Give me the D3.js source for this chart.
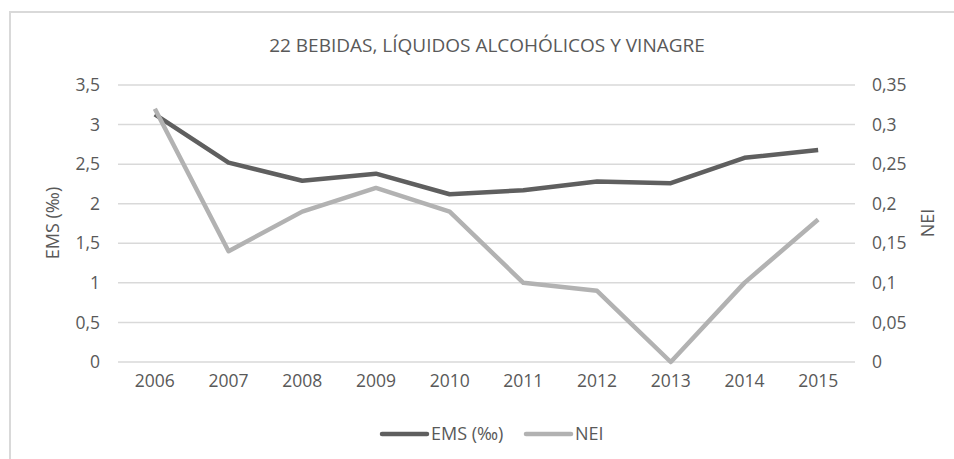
<!DOCTYPE html>
<html>
<head>
<meta charset="utf-8">
<script src="https://cdn.jsdelivr.net/npm/d3@7"></script>
<style>
  body { margin: 0; background: #fff; }
  svg { display: block; font-family: "Open Sans", sans-serif; }
</style>
</head>
<body>
<div id="chart"></div>
<script>
const years = ['2006', '2007', '2008', '2009', '2010', '2011', '2012', '2013', '2014', '2015'];
const ems = [3.13, 2.52, 2.29, 2.38, 2.12, 2.17, 2.28, 2.26, 2.58, 2.68];
const nei = [0.32, 0.14, 0.19, 0.22, 0.19, 0.10, 0.09, 0.00, 0.10, 0.18];
const leftTicks = [0, 0.5, 1, 1.5, 2, 2.5, 3, 3.5];
const rightTicks = [0, 0.05, 0.1, 0.15, 0.2, 0.25, 0.3, 0.35];

const width = 954, height = 459;
const margin = { top: 85, right: 99, bottom: 97, left: 118 };
const textColor = '#595959';
const fmt = v => String(v).replace('.', ',');

const svg = d3.select('#chart').append('svg')
  .attr('width', width)
  .attr('height', height);

// chart area border (runs off the right and bottom)
svg.append('path')
  .attr('d', `M10,${height + 5} V12 H${width + 5}`)
  .attr('fill', 'none')
  .attr('stroke', '#d9d9d9')
  .attr('stroke-width', 2);

const x = d3.scaleBand()
  .domain(years)
  .range([margin.left, width - margin.right]);

const yL = d3.scaleLinear().domain([0, 3.5]).range([height - margin.bottom, margin.top]);
const yR = d3.scaleLinear().domain([0, 0.35]).range([height - margin.bottom, margin.top]);

// gridlines
svg.append('g')
  .selectAll('line')
  .data(leftTicks)
  .join('line')
  .attr('x1', margin.left)
  .attr('x2', width - margin.right)
  .attr('y1', d => yL(d))
  .attr('y2', d => yL(d))
  .attr('stroke', '#d9d9d9')
  .attr('stroke-width', 1.5);

const axL = svg.append('g')
  .attr('transform', `translate(${margin.left - 18},0)`)
  .call(d3.axisLeft(yL).tickValues(leftTicks).tickFormat(fmt).tickSize(0).tickPadding(0));
const axR = svg.append('g')
  .attr('transform', `translate(${width - margin.right + 17},0)`)
  .call(d3.axisRight(yR).tickValues(rightTicks).tickFormat(fmt).tickSize(0).tickPadding(0));
const axB = svg.append('g')
  .attr('transform', `translate(0,${height - margin.bottom + 13})`)
  .call(d3.axisBottom(x).tickSize(0).tickPadding(0));

[axL, axR, axB].forEach(g => {
  g.select('.domain').remove();
  g.selectAll('text')
    .attr('fill', textColor)
    .style('font-size', '17.5px')
    .style('font-family', '"Open Sans", sans-serif');
});
axB.selectAll('text').attr('dy', '0.71em');

const cx = d => x(d) + x.bandwidth() / 2;

const lineL = d3.line().x((d, i) => cx(years[i])).y(d => yL(d));
const lineR = d3.line().x((d, i) => cx(years[i])).y(d => yR(d));

svg.append('path')
  .datum(ems)
  .attr('d', lineL)
  .attr('fill', 'none')
  .attr('stroke', '#5f5f5f')
  .attr('stroke-width', 4.5)
  .attr('stroke-linejoin', 'round');

svg.append('path')
  .datum(nei)
  .attr('d', lineR)
  .attr('fill', 'none')
  .attr('stroke', '#b2b2b2')
  .attr('stroke-width', 4.5)
  .attr('stroke-linejoin', 'round');

// title
svg.append('text')
  .attr('x', 487)
  .attr('y', 52)
  .attr('text-anchor', 'middle')
  .attr('fill', textColor)
  .style('font-size', '19px')
  .text('22 BEBIDAS, LÍQUIDOS ALCOHÓLICOS Y VINAGRE');

// axis titles
svg.append('text')
  .attr('transform', 'translate(59,223) rotate(-90)')
  .attr('text-anchor', 'middle')
  .attr('fill', textColor)
  .style('font-size', '18px')
  .text('EMS (‰)');

svg.append('text')
  .attr('transform', 'translate(934,223) rotate(-90)')
  .attr('text-anchor', 'middle')
  .attr('fill', textColor)
  .style('font-size', '18px')
  .text('NEI');

// legend
const legend = [
  { name: 'EMS (‰)', color: '#5f5f5f', x: 382 },
  { name: 'NEI', color: '#b2b2b2', x: 526 }
];
const lg = svg.append('g').selectAll('g')
  .data(legend)
  .join('g')
  .attr('transform', d => `translate(${d.x},434)`);
lg.append('line')
  .attr('x1', 0).attr('x2', 45)
  .attr('stroke', d => d.color)
  .attr('stroke-width', 4.5)
  .attr('stroke-linecap', 'round');
lg.append('text')
  .attr('x', 49)
  .attr('dy', '0.35em')
  .attr('fill', textColor)
  .style('font-size', '18px')
  .text(d => d.name);
</script>
</body>
</html>
